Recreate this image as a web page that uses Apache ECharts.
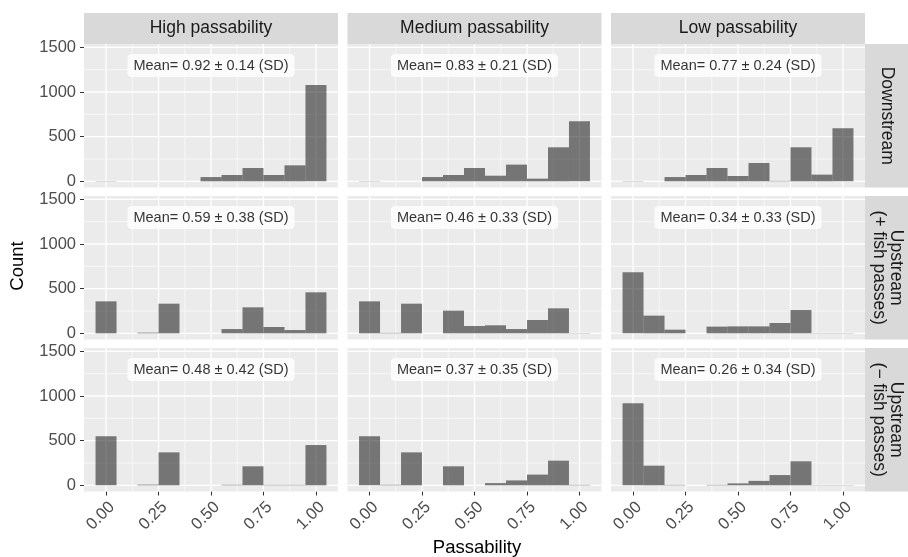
<!DOCTYPE html>
<html><head><meta charset="utf-8">
<script src="https://cdn.jsdelivr.net/npm/echarts@6/dist/echarts.min.js"></script>
<style>html,body{margin:0;padding:0;background:#fff}#c{width:908px;height:557px}</style>
</head><body><div id="c"></div>
<script>
// ---------- data ----------
const colLabels = ['High passability', 'Medium passability', 'Low passability'];
const rowLabels = ['Downstream', 'Upstream\n(+ fish passes)', 'Upstream\n(\u2212 fish passes)'];
const binCenters = [0, 0.1, 0.2, 0.3, 0.4, 0.5, 0.6, 0.7, 0.8, 0.9, 1.0];
const binWidth = 0.1;
// counts per bin (rows: Downstream, Upstream +, Upstream -; cols: High, Medium, Low)
const downHigh   = [3, 0, 0, 0, 0, 48, 71, 149, 71, 179, 1078];
const downMedium = [3, 0, 0, 48, 71, 149, 63, 187, 30, 381, 672];
const downLow    = [3, 0, 48, 71, 149, 60, 205, 5, 381, 75, 593];
const upPlusHigh   = [358, 0, 8, 332, 0, 0, 48, 291, 71, 37, 459];
const upPlusMedium = [358, 5, 332, 0, 254, 82, 90, 48, 149, 280, 3];
const upPlusLow    = [685, 198, 41, 0, 75, 78, 78, 116, 261, 3, 3];
const upMinusHigh   = [549, 0, 8, 369, 0, 0, 6, 213, 5, 5, 451];
const upMinusMedium = [549, 6, 369, 0, 213, 0, 25, 55, 120, 276, 5];
const upMinusLow    = [918, 220, 5, 0, 5, 22, 50, 115, 269, 3, 3];
const meanLabels = [
  'Mean= 0.92 \u00b1 0.14 (SD)', 'Mean= 0.83 \u00b1 0.21 (SD)', 'Mean= 0.77 \u00b1 0.24 (SD)',
  'Mean= 0.59 \u00b1 0.38 (SD)', 'Mean= 0.46 \u00b1 0.33 (SD)', 'Mean= 0.34 \u00b1 0.33 (SD)',
  'Mean= 0.48 \u00b1 0.42 (SD)', 'Mean= 0.37 \u00b1 0.35 (SD)', 'Mean= 0.26 \u00b1 0.34 (SD)'
];
const labelPos = [0.5, 1296];
const yTicks = [0, 500, 1000, 1500];
const yMinor = [250, 750, 1250];
const xTicks = [0, 0.25, 0.5, 0.75, 1.0];
const xMinor = [0.125, 0.375, 0.625, 0.875];

// ---------- layout ----------
const panelCounts = [downHigh, downMedium, downLow, upPlusHigh, upPlusMedium, upPlusLow, upMinusHigh, upMinusMedium, upMinusLow];
const colLeft = [84, 347.5, 611];
const rowTop = [44, 196, 348];
const PW = 254, PH = 143.5;
const FONT = "'Liberation Sans', Arial, Helvetica, sans-serif";
const hiddenLine = {show: true, onZero: false, lineStyle: {color: 'rgba(0,0,0,0)', width: 0}};

const grids = [], xAxes = [], yAxes = [], series = [], graphics = [];
for (let r = 0; r < 3; r++) {
  for (let c = 0; c < 3; c++) {
    const i = r * 3 + c;
    grids.push({left: colLeft[c], top: rowTop[r], width: PW, height: PH, show: true,
      backgroundColor: '#EBEBEB', borderWidth: 0, containLabel: false});
    xAxes.push({gridIndex: i, type: 'value', min: -0.105, max: 1.105, position: 'bottom',
      axisLine: hiddenLine, splitLine: {show: false},
      axisTick: {show: r === 2, customValues: xTicks, length: 4, lineStyle: {color: '#333333', width: 1}},
      axisLabel: {show: r === 2, customValues: xTicks, rotate: 45, margin: 7, verticalAlign: 'top',
        formatter: v => v.toFixed(2), color: '#4D4D4D', fontSize: 16.5, fontFamily: FONT}});
    yAxes.push({gridIndex: i, type: 'value', min: -69, max: 1537, position: 'left',
      axisLine: hiddenLine, splitLine: {show: false},
      axisTick: {show: c === 0, customValues: yTicks, length: 4, lineStyle: {color: '#333333', width: 1}},
      axisLabel: {show: c === 0, customValues: yTicks, margin: 8, formatter: v => String(v),
        color: '#4D4D4D', fontSize: 16.5, fontFamily: FONT}});
    // grid lines
    const gl = [];
    xTicks.forEach(v => gl.push([v, 0, 0, 1]));
    xMinor.forEach(v => gl.push([v, 0, 0, 0]));
    yTicks.forEach(v => gl.push([0, v, 1, 1]));
    yMinor.forEach(v => gl.push([0, v, 1, 0]));
    series.push({type: 'custom', xAxisIndex: i, yAxisIndex: i, z: 1, silent: true,
      encode: {x: 0, y: 1}, data: gl,
      renderItem: (params, api) => {
        const cs = params.coordSys;
        const kind = api.value(2), major = api.value(3);
        let shape;
        if (kind === 0) {
          const p = api.coord([api.value(0), 0]);
          shape = {x1: p[0], y1: cs.y, x2: p[0], y2: cs.y + cs.height};
        } else {
          const p = api.coord([0, api.value(1)]);
          shape = {x1: cs.x, y1: p[1], x2: cs.x + cs.width, y2: p[1]};
        }
        return {type: 'line', shape, style: {stroke: '#FFFFFF', lineWidth: major ? 1.3 : 0.6}};
      }});
    // histogram bars
    series.push({type: 'custom', xAxisIndex: i, yAxisIndex: i, z: 2, silent: true,
      encode: {x: 0, y: 1},
      data: binCenters.map((b, k) => [b, panelCounts[i][k]]),
      renderItem: (params, api) => {
        const b = api.value(0), n = api.value(1);
        const p0 = api.coord([b - binWidth / 2, n]);
        const p1 = api.coord([b + binWidth / 2, 0]);
        return {type: 'rect', shape: {x: p0[0], y: p0[1], width: p1[0] - p0[0], height: p1[1] - p0[1]},
          style: {fill: 'rgba(0,0,0,0.5)'}};
      }});
    // mean label
    series.push({type: 'scatter', xAxisIndex: i, yAxisIndex: i, z: 5, silent: true,
      symbolSize: 0, data: [labelPos],
      label: {show: true, position: 'inside', formatter: meanLabels[i], color: '#000',
        fontSize: 14.5, fontFamily: FONT, backgroundColor: '#FFFFFF', borderRadius: 4,
        padding: [4, 6, 4, 6]}});
  }
}
// strips
for (let c = 0; c < 3; c++) {
  graphics.push({type: 'rect', shape: {x: colLeft[c], y: 13, width: PW, height: 31}, style: {fill: '#D9D9D9'}, silent: true});
  graphics.push({type: 'text', x: colLeft[c] + PW / 2, y: 28.5,
    style: {text: colLabels[c], align: 'center', verticalAlign: 'middle', fill: '#1A1A1A', fontSize: 17.5, fontFamily: FONT}});
}
for (let r = 0; r < 3; r++) {
  graphics.push({type: 'rect', shape: {x: 865, y: rowTop[r], width: 43, height: PH}, style: {fill: '#D9D9D9'}, silent: true});
  graphics.push({type: 'text', x: 887, y: rowTop[r] + PH / 2, rotation: -Math.PI / 2,
    style: {text: rowLabels[r], align: 'center', verticalAlign: 'middle', fill: '#1A1A1A', fontSize: 17.5, lineHeight: 17, fontFamily: FONT}});
}
graphics.push({type: 'text', x: 18, y: 266, rotation: Math.PI / 2,
  style: {text: 'Count', align: 'center', verticalAlign: 'middle', fill: '#000', fontSize: 18.5, fontFamily: FONT}});
graphics.push({type: 'text', x: 477, y: 548,
  style: {text: 'Passability', align: 'center', verticalAlign: 'middle', fill: '#000', fontSize: 18.5, fontFamily: FONT}});

const chart = echarts.init(document.getElementById('c'), null, {renderer: 'canvas'});
chart.setOption({animation: false, backgroundColor: '#FFFFFF', grid: grids, xAxis: xAxes, yAxis: yAxes, series, graphic: graphics});
</script></body></html>
